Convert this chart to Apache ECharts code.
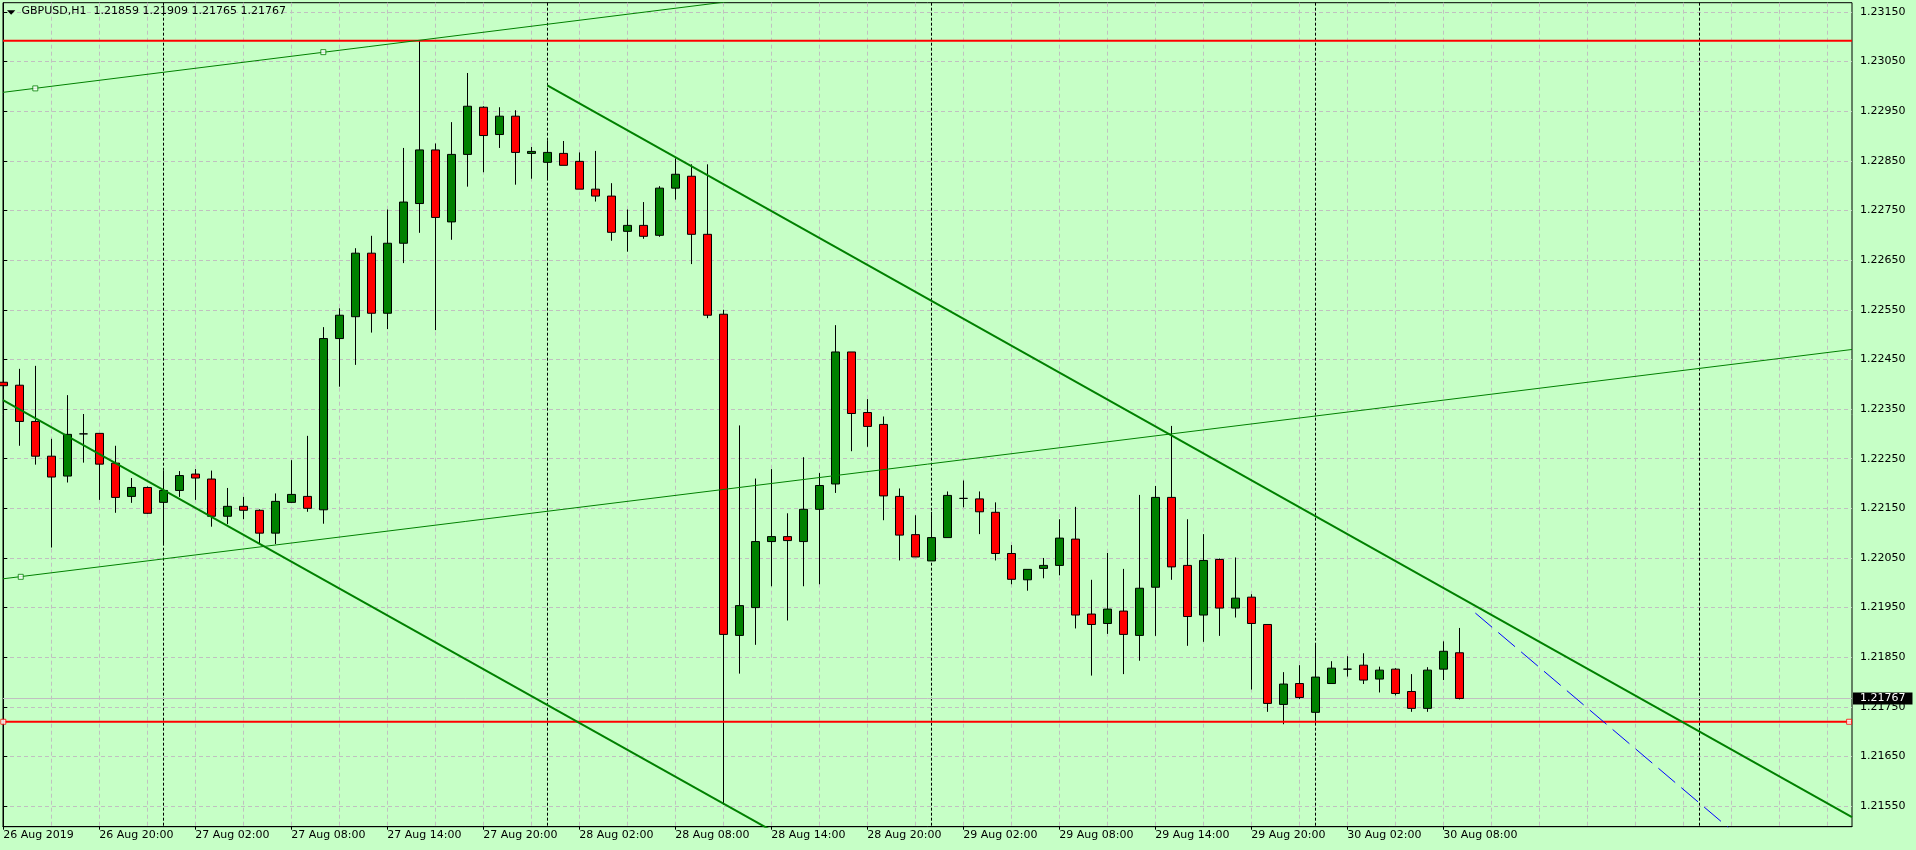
<!DOCTYPE html>
<html>
<head>
<meta charset="utf-8">
<script src="https://cdn.jsdelivr.net/npm/echarts@6/dist/echarts.min.js"></script>
<style>
html,body{margin:0;padding:0;background:#c6ffc6;}
#chart{width:1916px;height:850px;}
</style>
</head>
<body>
<div id="chart"></div>
<script>
// ---------- data ----------
const symbolName = 'GBPUSD,H1';
const xTickIdx = [0, 6, 12, 18, 24, 30, 36, 42, 48, 54, 60, 66, 72, 78, 84, 90];
const xTickLabels = ['26 Aug 2019', '26 Aug 20:00', '27 Aug 02:00', '27 Aug 08:00', '27 Aug 14:00', '27 Aug 20:00',
  '28 Aug 02:00', '28 Aug 08:00', '28 Aug 14:00', '28 Aug 20:00', '29 Aug 02:00', '29 Aug 08:00',
  '29 Aug 14:00', '29 Aug 20:00', '30 Aug 02:00', '30 Aug 08:00'];
const gridIdx = [0, 3, 6, 9, 12, 15, 18, 21, 24, 27, 30, 33, 36, 39, 42, 45, 48, 51, 54, 57, 60, 63, 66, 69, 72, 75,
  78, 81, 84, 87, 90, 93, 96, 99, 102, 105, 108, 111, 114];
const daySeparators = [10, 34, 58, 82, 106];
const priceTicks = [1.21550, 1.21650, 1.21750, 1.21850, 1.21950, 1.22050, 1.22150, 1.22250, 1.22350,
  1.22450, 1.22550, 1.22650, 1.22750, 1.22850, 1.22950, 1.23050, 1.23150];

const opens = [1.22404, 1.22398, 1.22325, 1.22255, 1.22215, 1.22300, 1.22301, 1.22241, 1.22174, 1.22192,
  1.22162, 1.22186, 1.22219, 1.22209, 1.22134, 1.22154, 1.22146, 1.22100, 1.22162, 1.22174,
  1.22147, 1.22492, 1.22536, 1.22664, 1.22543, 1.22684, 1.22764, 1.22872, 1.22727, 1.22863,
  1.22958, 1.22903, 1.22940, 1.22865, 1.22847, 1.22865, 1.22849, 1.22793, 1.22779, 1.22708,
  1.22720, 1.22700, 1.22795, 1.22819, 1.22702, 1.22541, 1.21894, 1.21950, 1.22083, 1.22093,
  1.22083, 1.22148, 1.22199, 1.22465, 1.22343, 1.22319, 1.22174, 1.22097, 1.22044, 1.22091,
  1.22170, 1.22169, 1.22142, 1.22059, 1.22006, 1.22029, 1.22035, 1.22088, 1.21937, 1.21918,
  1.21943, 1.21894, 1.21991, 1.22172, 1.22035, 1.21935, 1.22047, 1.21949, 1.21971, 1.21916,
  1.21755, 1.21797, 1.21739, 1.21797, 1.21826, 1.21834, 1.21806, 1.21826, 1.21781, 1.21747,
  1.21826, 1.21859];
const closes = [1.22397, 1.22325, 1.22255, 1.22213, 1.22299, 1.22300, 1.22239, 1.22172, 1.22192, 1.22140,
  1.22186, 1.22216, 1.22211, 1.22134, 1.22154, 1.22146, 1.22100, 1.22164, 1.22178, 1.22150,
  1.22492, 1.22539, 1.22664, 1.22543, 1.22684, 1.22767, 1.22872, 1.22736, 1.22863, 1.22960,
  1.22901, 1.22940, 1.22867, 1.22869, 1.22867, 1.22841, 1.22793, 1.22779, 1.22706, 1.22720,
  1.22698, 1.22795, 1.22823, 1.22702, 1.22539, 1.21896, 1.21954, 1.22083, 1.22093, 1.22085,
  1.22148, 1.22196, 1.22465, 1.22341, 1.22315, 1.22175, 1.22096, 1.22052, 1.22091, 1.22176,
  1.22170, 1.22143, 1.22059, 1.22007, 1.22027, 1.22035, 1.22090, 1.21935, 1.21916, 1.21947,
  1.21896, 1.21989, 1.22172, 1.22032, 1.21932, 1.22045, 1.21949, 1.21969, 1.21918, 1.21757,
  1.21796, 1.21769, 1.21810, 1.21828, 1.21826, 1.21804, 1.21824, 1.21777, 1.21747, 1.21824,
  1.21862, 1.21767];
const lows = [1.22321, 1.22276, 1.22238, 1.22071, 1.22202, 1.22242, 1.22167, 1.22141, 1.22161, 1.22139,
  1.22078, 1.22173, 1.22167, 1.22113, 1.22118, 1.22128, 1.22080, 1.22078, 1.22161, 1.22143,
  1.22119, 1.22395, 1.22439, 1.22504, 1.22511, 1.22644, 1.22705, 1.22509, 1.22691, 1.22798,
  1.22827, 1.22876, 1.22802, 1.22814, 1.22814, 1.22841, 1.22793, 1.22768, 1.22689, 1.22667,
  1.22693, 1.22697, 1.22772, 1.22642, 1.22533, 1.21553, 1.21817, 1.21875, 1.21993, 1.21924,
  1.21993, 1.21997, 1.22181, 1.22265, 1.22274, 1.22126, 1.22045, 1.22052, 1.22044, 1.22091,
  1.22152, 1.22098, 1.22045, 1.21997, 1.21984, 1.22009, 1.22015, 1.21908, 1.21813, 1.21897,
  1.21816, 1.21843, 1.21893, 1.22006, 1.21873, 1.21881, 1.21893, 1.21930, 1.21785, 1.21740,
  1.21715, 1.21766, 1.21715, 1.21797, 1.21811, 1.21796, 1.21779, 1.21773, 1.21740, 1.21740,
  1.21804, 1.21765];
const highs = [1.22433, 1.22431, 1.22437, 1.22290, 1.22378, 1.22340, 1.22301, 1.22276, 1.22211, 1.22194,
  1.22226, 1.22225, 1.22229, 1.22226, 1.22191, 1.22173, 1.22148, 1.22180, 1.22247, 1.22296,
  1.22515, 1.22553, 1.22674, 1.22699, 1.22752, 1.22876, 1.23093, 1.22885, 1.22928, 1.23027,
  1.22960, 1.22958, 1.22952, 1.22878, 1.22891, 1.22890, 1.22867, 1.22870, 1.22805, 1.22752,
  1.22767, 1.22799, 1.22855, 1.22843, 1.22843, 1.22550, 1.22317, 1.22210, 1.22229, 1.22140,
  1.22253, 1.22221, 1.22519, 1.22465, 1.22370, 1.22335, 1.22190, 1.22136, 1.22143, 1.22184,
  1.22206, 1.22184, 1.22162, 1.22076, 1.22027, 1.22050, 1.22128, 1.22153, 1.22006, 1.22060,
  1.22028, 1.22177, 1.22195, 1.22316, 1.22128, 1.22098, 1.22049, 1.22051, 1.21977, 1.21916,
  1.21820, 1.21834, 1.21876, 1.21842, 1.21852, 1.21858, 1.21831, 1.21828, 1.21816, 1.21830,
  1.21882, 1.21909];

const bidPrice = 1.21767;
const levelTop = 1.23092;
const levelBottom = 1.21720;
// drawn objects: [bar index, price] end points
const channelUpperThin = [[-0.02, 1.22988], [60, 1.23230]];
const channelLowerThin = [[-0.02, 1.22008], [115.54, 1.22470]];
const trendLowerThick = [[-0.02, 1.22368], [50, 1.21465]];
const trendUpperThick = [[34, 1.23002], [115.54, 1.21528]];
const blueDashed = [[92, 1.21939], [110, 1.21447]];
const greenHandles = [[2, 1.22996], [20, 1.23069], [1.09, 1.22012]];
const redHandles = [[0, 1.21720], [115.36, 1.21720]];

// ---------- chart ----------
const BG = '#c6ffc6';
const FONT = 'DejaVu Sans';
const X_MIN = -0.019, X_MAX = 115.54;
const Y_MIN = 1.215086, Y_MAX = 1.231686;

const candleData = opens.map((o, i) => [i, o, closes[i], lows[i], highs[i]]);
const last = candleData.length - 1;
const titleText = symbolName + '  ' + opens[last].toFixed(5) + ' ' + highs[last].toFixed(5) + ' ' +
  lows[last].toFixed(5) + ' ' + closes[last].toFixed(5);

function seg(data, color, width, type, z) {
  return {
    type: 'line', data: data, symbol: 'none', silent: true, clip: true, z: z || 3,
    lineStyle: { color: color, width: width, type: type || 'solid' }
  };
}

const chart = echarts.init(document.getElementById('chart'), null, { renderer: 'canvas' });
chart.setOption({
  animation: false,
  backgroundColor: BG,
  textStyle: { fontFamily: FONT },
  grid: {
    left: 3, right: 64, top: 2.7, bottom: 23.3,
    show: true, borderColor: '#000', borderWidth: 1, backgroundColor: 'transparent',
    containLabel: false, outerBoundsMode: 'none'
  },
  graphic: [
    { type: 'polygon', shape: { points: [[7, 10.3], [15.3, 10.3], [11.15, 14.8]] }, style: { fill: '#000' }, z: 10 },
    { type: 'text', left: 21.5, top: 6, style: { text: titleText, fill: '#000', font: '11px "DejaVu Sans"' }, z: 10 }
  ],
  xAxis: [
    {
      type: 'value', position: 'bottom', min: X_MIN, max: X_MAX,
      axisLine: { show: true, lineStyle: { color: '#000', width: 1 } },
      axisTick: { show: true, customValues: xTickIdx, length: 3, lineStyle: { color: '#000' } },
      axisLabel: {
        customValues: xTickIdx, align: 'left', margin: 3, color: '#000', fontFamily: FONT, fontSize: 11,
        formatter: function (v) { const k = xTickIdx.indexOf(Math.round(v)); return k >= 0 ? xTickLabels[k] : ''; }
      },
      splitLine: { show: false }
    },
    {
      type: 'value', position: 'top', min: X_MIN, max: X_MAX,
      axisLine: { show: false }, axisLabel: { show: false },
      axisTick: { show: false, customValues: gridIdx },
      splitLine: { show: true, lineStyle: { color: '#c0c0c0', width: 1, type: [4, 3] } }
    },
    {
      type: 'value', position: 'top', min: X_MIN, max: X_MAX,
      axisLine: { show: false }, axisLabel: { show: false },
      axisTick: { show: false, customValues: daySeparators },
      splitLine: { show: true, lineStyle: { color: '#000', width: 1, type: [3, 2] } }
    }
  ],
  yAxis: {
    type: 'value', position: 'right', min: Y_MIN, max: Y_MAX,
    axisLine: { show: true, lineStyle: { color: '#000', width: 1 } },
    axisTick: { show: true, customValues: priceTicks, length: 4, lineStyle: { color: '#000' } },
    axisLabel: {
      customValues: priceTicks, margin: 8, color: '#000', fontFamily: FONT, fontSize: 11,
      formatter: function (v) { return v.toFixed(5); }
    },
    splitLine: { show: true, lineStyle: { color: '#c0c0c0', width: 1, type: [4, 3] } }
  },
  series: [
    {
      type: 'candlestick', xAxisIndex: 0, yAxisIndex: 0, data: candleData, barWidth: 9, large: false,
      silent: true, z: 2,
      itemStyle: { color: '#008000', color0: '#ff0000', borderColor: '#000', borderColor0: '#000',
        borderColorDoji: '#000', borderWidth: 1 },
      markLine: {
        silent: true, symbol: ['none', 'none'], z: 1, animation: false, precision: 5,
        lineStyle: { color: '#c0c0c0', type: 'solid', width: 1 },
        label: {
          show: true, position: 'end', distance: 1, color: '#fff', backgroundColor: '#000',
          padding: [1, 7, 0, 7], fontFamily: FONT, fontSize: 11,
          formatter: function (p) { return Number(p.value).toFixed(5); }
        },
        data: [{ yAxis: bidPrice }]
      }
    },
    seg([[X_MIN, levelTop], [X_MAX, levelTop]], '#ff0000', 2),
    seg([[X_MIN, levelBottom], [X_MAX, levelBottom]], '#ff0000', 2),
    seg(channelUpperThin, '#008000', 1),
    seg(channelLowerThin, '#008000', 1),
    seg(trendLowerThick, '#008000', 2),
    seg(trendUpperThick, '#008000', 2),
    seg(blueDashed, '#0000ff', 1, [22, 8]),
    {
      type: 'scatter', data: greenHandles, symbol: 'rect', symbolSize: 5, silent: true, z: 4,
      itemStyle: { color: '#ffffff', borderColor: '#008000', borderWidth: 1 }
    },
    {
      type: 'scatter', data: redHandles, symbol: 'rect', symbolSize: 5, silent: true, z: 4, clip: false,
      itemStyle: { color: '#ffffff', borderColor: '#ff0000', borderWidth: 1 }
    }
  ]
});
</script>
</body>
</html>
